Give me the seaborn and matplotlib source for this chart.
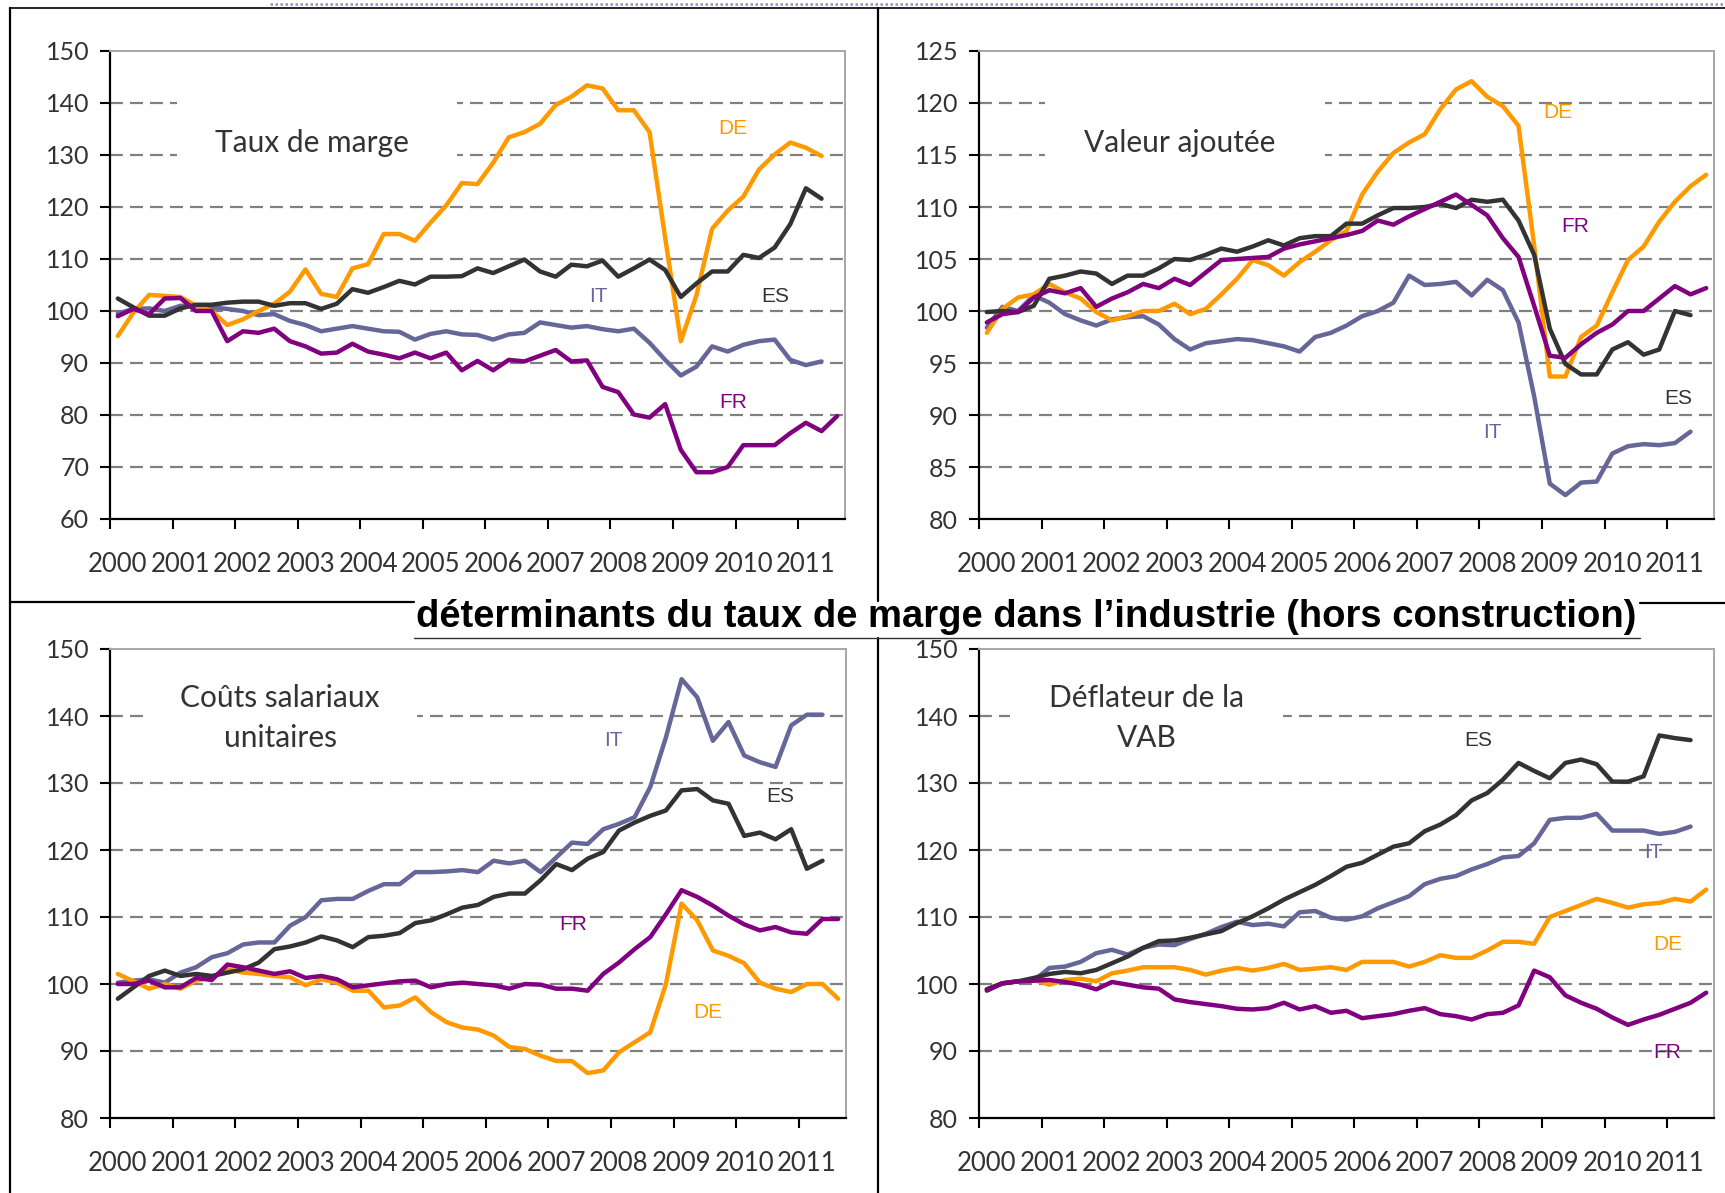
import numpy as np
import pandas as pd
import matplotlib
matplotlib.use("Agg")
import matplotlib.pyplot as plt
import seaborn as sns
from matplotlib.lines import Line2D
from matplotlib.patches import Rectangle

# ---------------- data (quarterly, 2000Q1 onwards) ----------------
years = [str(y) for y in range(2000, 2012)]
countries = ["IT", "DE", "ES", "FR"]
colors = {"DE": "#FF9900", "ES": "#333333", "IT": "#666699", "FR": "#800080"}

taux_DE = [95.2, 99.7, 103.1, 102.9, 102.7, 101.0, 100.0, 97.3, 98.4, 100.0, 101.4, 103.7, 108.0, 103.3, 102.7, 108.2,
           109.0, 114.8, 114.8, 113.5, 117.0, 120.3, 124.6, 124.4, 128.5, 133.4, 134.4, 136.0, 139.6, 141.2, 143.4, 142.8,
           138.6, 138.6, 134.4, 114.1, 94.2, 103.0, 115.8, 119.3, 122.0, 127.2, 130.1, 132.4, 131.4, 129.8]
taux_ES = [102.4, 100.7, 99.1, 99.1, 100.5, 101.2, 101.2, 101.6, 101.8, 101.8, 101.0, 101.5, 101.5, 100.4, 101.4, 104.2,
           103.5, 104.6, 105.8, 105.1, 106.6, 106.6, 106.7, 108.2, 107.3, 108.6, 109.9, 107.6, 106.6, 108.9, 108.6, 109.7,
           106.6, 108.2, 109.9, 107.9, 102.7, 105.3, 107.6, 107.6, 110.8, 110.2, 112.2, 116.7, 123.6, 121.6]
taux_IT = [99.5, 100.4, 100.5, 100.0, 101.0, 101.0, 100.7, 100.4, 100.0, 99.2, 99.4, 98.1, 97.3, 96.1, 96.6, 97.1,
           96.6, 96.1, 96.0, 94.5, 95.6, 96.1, 95.5, 95.4, 94.5, 95.5, 95.8, 97.8, 97.3, 96.8, 97.1, 96.5,
           96.1, 96.6, 93.9, 90.6, 87.6, 89.3, 93.2, 92.2, 93.5, 94.2, 94.5, 90.6, 89.6, 90.3]
taux_FR = [99.0, 100.4, 99.4, 102.4, 102.5, 100.0, 100.0, 94.2, 96.1, 95.8, 96.6, 94.2, 93.2, 91.8, 92.0, 93.7,
           92.2, 91.6, 90.9, 92.0, 90.9, 92.0, 88.6, 90.4, 88.6, 90.6, 90.3, 91.4, 92.5, 90.3, 90.5, 85.4,
           84.4, 80.1, 79.5, 82.1, 73.3, 69.0, 69.0, 70.0, 74.2, 74.2, 74.2, 76.5, 78.5, 76.9, 79.8]

va_DE = [97.9, 100.2, 101.3, 101.6, 102.6, 101.8, 101.2, 99.9, 99.1, 99.5, 100.0, 100.0, 100.7, 99.7, 100.2, 101.6,
         103.1, 104.9, 104.4, 103.4, 104.7, 105.7, 106.8, 107.7, 111.2, 113.4, 115.2, 116.2, 117.0, 119.4, 121.3, 122.1,
         120.6, 119.7, 117.8, 106.3, 93.7, 93.7, 97.5, 98.6, 101.8, 104.9, 106.2, 108.6, 110.5, 112.0, 113.1]
va_ES = [99.9, 100.0, 99.9, 100.5, 103.1, 103.4, 103.8, 103.6, 102.6, 103.4, 103.4, 104.1, 105.0, 104.9, 105.4, 106.0,
         105.7, 106.2, 106.8, 106.3, 107.0, 107.2, 107.2, 108.4, 108.4, 109.2, 109.9, 109.9, 110.0, 110.3, 109.9, 110.7,
         110.5, 110.7, 108.7, 105.4, 98.3, 94.9, 93.9, 93.9, 96.3, 97.0, 95.8, 96.3, 100.0, 99.6]
va_IT = [98.4, 100.4, 100.0, 101.5, 100.8, 99.7, 99.1, 98.6, 99.2, 99.4, 99.5, 98.7, 97.3, 96.3, 96.9, 97.1,
         97.3, 97.2, 96.9, 96.6, 96.1, 97.5, 97.9, 98.6, 99.5, 100.0, 100.8, 103.4, 102.5, 102.6, 102.8, 101.5,
         103.0, 102.0, 98.9, 91.8, 83.4, 82.3, 83.5, 83.6, 86.3, 87.0, 87.2, 87.1, 87.3, 88.4]
va_FR = [98.9, 99.7, 99.9, 101.3, 102.0, 101.7, 102.2, 100.4, 101.2, 101.8, 102.6, 102.2, 103.1, 102.5, 103.7, 104.9,
         105.0, 105.1, 105.2, 106.0, 106.4, 106.7, 107.0, 107.3, 107.7, 108.7, 108.3, 109.1, 109.8, 110.5, 111.2, 110.2,
         109.2, 107.0, 105.2, 100.5, 95.7, 95.5, 96.8, 97.9, 98.7, 100.0, 100.0, 101.2, 102.4, 101.6, 102.2]

csu_DE = [101.5, 100.4, 99.3, 100.0, 99.3, 100.5, 101.0, 102.2, 101.7, 101.5, 101.2, 101.0, 99.8, 100.7, 100.2, 99.0,
          99.0, 96.5, 96.8, 98.0, 95.8, 94.3, 93.5, 93.2, 92.3, 90.6, 90.3, 89.3, 88.5, 88.5, 86.7, 87.1,
          89.8, 91.3, 92.8, 100.0, 112.0, 109.5, 105.0, 104.2, 103.1, 100.2, 99.3, 98.8, 100.0, 100.0, 97.8]
csu_ES = [97.8, 99.5, 101.2, 102.0, 101.2, 101.5, 101.2, 101.7, 102.2, 103.2, 105.2, 105.6, 106.2, 107.1, 106.5, 105.5,
          107.0, 107.2, 107.6, 109.1, 109.5, 110.4, 111.4, 111.8, 113.0, 113.5, 113.5, 115.5, 117.9, 117.0, 118.7, 119.7,
          122.9, 124.1, 125.1, 125.9, 128.9, 129.1, 127.4, 126.9, 122.1, 122.6, 121.6, 123.1, 117.2, 118.4]
csu_IT = [100.2, 100.5, 100.7, 100.2, 101.7, 102.5, 104.0, 104.6, 105.9, 106.2, 106.2, 108.7, 110.0, 112.5, 112.7, 112.7,
          113.9, 114.9, 114.9, 116.7, 116.7, 116.8, 117.0, 116.7, 118.4, 118.0, 118.4, 116.7, 118.9, 121.1, 120.9, 123.1,
          123.9, 124.9, 129.4, 136.8, 145.5, 142.8, 136.3, 139.1, 134.1, 133.1, 132.4, 138.6, 140.2, 140.2]
csu_FR = [100.0, 100.0, 100.5, 99.5, 99.5, 100.9, 100.6, 102.9, 102.5, 102.0, 101.5, 101.9, 100.9, 101.2, 100.7, 99.5,
          99.8, 100.1, 100.4, 100.5, 99.5, 100.0, 100.2, 100.0, 99.8, 99.3, 100.0, 99.9, 99.3, 99.3, 99.0, 101.5,
          103.2, 105.2, 107.0, 110.4, 114.0, 113.0, 111.7, 110.2, 108.9, 108.0, 108.5, 107.7, 107.5, 109.7, 109.7]

defl_DE = [99.2, 100.1, 100.4, 100.6, 99.9, 100.6, 100.8, 100.4, 101.6, 102.0, 102.5, 102.5, 102.5, 102.1, 101.4, 102.0,
           102.4, 102.0, 102.4, 103.0, 102.1, 102.3, 102.5, 102.1, 103.3, 103.3, 103.3, 102.6, 103.3, 104.3, 103.9, 103.9,
           105.0, 106.3, 106.3, 106.0, 110.0, 110.9, 111.8, 112.7, 112.1, 111.4, 111.9, 112.1, 112.7, 112.3, 114.1]
defl_ES = [99.2, 100.1, 100.4, 100.9, 101.5, 101.8, 101.6, 102.1, 103.1, 104.1, 105.4, 106.4, 106.5, 106.9, 107.4, 107.9,
           109.1, 110.1, 111.3, 112.6, 113.7, 114.8, 116.1, 117.5, 118.1, 119.3, 120.5, 121.0, 122.8, 123.8, 125.2, 127.4,
           128.5, 130.5, 133.0, 131.8, 130.7, 133.0, 133.5, 132.8, 130.2, 130.2, 131.0, 137.1, 136.7, 136.4]
defl_IT = [99.2, 100.1, 100.4, 100.5, 102.4, 102.6, 103.3, 104.6, 105.1, 104.4, 105.4, 105.9, 105.8, 106.7, 107.5, 108.5,
           109.3, 108.8, 109.0, 108.6, 110.7, 110.9, 109.9, 109.6, 110.1, 111.3, 112.2, 113.1, 114.9, 115.7, 116.1, 117.1,
           117.9, 118.9, 119.1, 121.0, 124.5, 124.8, 124.8, 125.4, 122.9, 122.9, 122.9, 122.4, 122.7, 123.5]
defl_FR = [99.0, 100.1, 100.4, 100.5, 100.6, 100.3, 99.9, 99.2, 100.3, 99.9, 99.5, 99.3, 97.7, 97.3, 97.0, 96.7,
           96.3, 96.2, 96.4, 97.2, 96.2, 96.7, 95.7, 96.0, 94.9, 95.2, 95.5, 96.0, 96.4, 95.5, 95.2, 94.7,
           95.5, 95.7, 96.8, 102.0, 101.0, 98.3, 97.2, 96.3, 95.0, 93.9, 94.7, 95.4, 96.3, 97.2, 98.7]

panel_titles = ["Taux de marge", "Valeur ajoutée", "Coûts salariaux\nunitaires", "Déflateur de la\nVAB"]
main_title = "déterminants du taux de marge dans l’industrie (hors construction)"

# ---------------- style ----------------
sns.set_theme(style="white")
plt.rcParams["font.family"] = ["Lato", "DejaVu Sans"]

W, H = 1725, 1193
fig = plt.figure(figsize=(W / 100, H / 100), dpi=100)
fig.patch.set_facecolor("white")


def fx(x):
    return x / W


def fy(y):
    return 1 - y / H


def fline(x0, y0, x1, y1, **kw):
    fig.add_artist(Line2D([fx(x0), fx(x1)], [fy(y0), fy(y1)], transform=fig.transFigure, **kw))


def long_df(series):
    rows = []
    for c, vals in series.items():
        for i, v in enumerate(vals):
            rows.append((i, v, c))
    return pd.DataFrame(rows, columns=["q", "val", "pays"])


panels = [
    dict(series={"DE": taux_DE, "ES": taux_ES, "IT": taux_IT, "FR": taux_FR},
         ylim=(60, 150), step=10, box=(110, 51, 845, 519),
         gap=(177, 457, 88, 170), title=panel_titles[0], tpos=(312, 143),
         labels={"DE": (733, 128), "IT": (598, 297), "ES": (775, 297), "FR": (733, 403)}),
    dict(series={"DE": va_DE, "ES": va_ES, "IT": va_IT, "FR": va_FR},
         ylim=(80, 125), step=5, box=(979, 51, 1714, 519),
         gap=(1045, 1325, 88, 170), title=panel_titles[1], tpos=(1180, 143),
         labels={"DE": (1558, 112), "FR": (1575, 227), "ES": (1678, 398), "IT": (1492, 433)}),
    dict(series={"DE": csu_DE, "ES": csu_ES, "IT": csu_IT, "FR": csu_FR},
         ylim=(80, 150), step=10, box=(110, 649, 846, 1118),
         gap=(143, 417, 680, 765), title=panel_titles[2], tpos=(280, 718),
         labels={"IT": (613, 740), "ES": (780, 797), "FR": (573, 925), "DE": (708, 1012)}),
    dict(series={"DE": defl_DE, "ES": defl_ES, "IT": defl_IT, "FR": defl_FR},
         ylim=(80, 150), step=10, box=(979, 649, 1714, 1118),
         gap=(1010, 1283, 680, 765), title=panel_titles[3], tpos=(1147, 718),
         labels={"ES": (1478, 740), "IT": (1653, 853), "DE": (1668, 945), "FR": (1667, 1052)}),
]

for p in panels:
    x0, y0, x1, y1 = p["box"]
    ax = fig.add_axes([fx(x0), fy(y1), (x1 - x0) / W, (y1 - y0) / H])
    df = long_df(p["series"])
    sns.lineplot(data=df, x="q", y="val", hue="pays", hue_order=countries, palette=colors,
                 linewidth=3.2, legend=False, ax=ax, estimator=None, sort=False)
    for ln in ax.lines:
        ln.set_zorder(3)
        ln.set_solid_joinstyle("round")

    lo, hi = p["ylim"]
    yt = np.arange(lo, hi + 0.1, p["step"])
    ax.set_ylim(lo, hi)
    ax.set_xlim(-0.5, 46.5)
    ax.set_yticks(yt)
    ax.set_yticklabels([f"{int(v)}" for v in yt])
    for v in yt[1:-1]:
        ax.axhline(v, color="#808080", lw=1.6, ls=(0, (5.8, 3.2)), zorder=1)

    # white box behind panel title (interrupts the grid)
    gx0, gx1, gy0, gy1 = p["gap"]
    fig.add_artist(Rectangle((fx(gx0), fy(gy1)), (gx1 - gx0) / W, (gy1 - gy0) / H,
                             transform=fig.transFigure, facecolor="white", edgecolor="none", zorder=1.5))

    ax.set_xticks(np.arange(-0.5, 44, 4))
    ax.set_xticklabels([])
    ax.set_xticks(np.arange(0, 45, 4), minor=True)
    ax.set_xticklabels(years, minor=True)
    ax.tick_params(axis="x", which="major", direction="out", length=7, width=1.5, color="black", bottom=True)
    ax.tick_params(axis="x", which="minor", length=0, pad=24, labelsize=18.5, labelcolor="#333333", bottom=True)
    ax.tick_params(axis="y", which="major", direction="out", length=7, width=1.5, color="black", left=True,
                   pad=8, labelsize=18, labelcolor="#333333")
    ax.set_xlabel("")
    ax.set_ylabel("")

    for side in ["left", "bottom"]:
        ax.spines[side].set_color("black")
        ax.spines[side].set_linewidth(1.6)
    for side in ["top", "right"]:
        ax.spines[side].set_color("#a6a6a6")
        ax.spines[side].set_linewidth(1.4)
    ax.set_facecolor("white")

    tx, ty = p["tpos"]
    fig.text(fx(tx), fy(ty), p["title"], ha="center", va="center", fontsize=21.5, color="#333333",
             linespacing=1.55, zorder=5)

    for c, (lx, ly) in p["labels"].items():
        fig.text(fx(lx), fy(ly), c, ha="center", va="center", fontsize=15, color=colors[c],
                 family=["Liberation Sans", "DejaVu Sans"], zorder=5)

# ---------------- frame and main title ----------------
fline(10, 8, 10, H, color="black", lw=1.6)
fline(10, 8, W, 8, color="black", lw=1.2)
fline(270, 4, W, 4, color="#8e8ec8", lw=1.8, ls=(0, (1, 1)))
fline(878, 8, 878, 601, color="black", lw=1.6)
fline(878, 638, 878, H, color="black", lw=1.6)
fline(10, 602, 414, 602, color="black", lw=1.6)
fline(1640, 603, W, 603, color="black", lw=1.6)
fline(414, 638, 1640, 638, color="#333333", lw=1.0)

t = fig.text(fx(416), fy(617), main_title, ha="left", va="center", fontsize=24, fontweight="bold",
             color="black", family=["Liberation Sans", "DejaVu Sans"], zorder=6)
renderer = fig.canvas.get_renderer()
wpx = t.get_window_extent(renderer).width
t.set_fontsize(24 * 1222 / wpx)

fig.savefig("out.png", dpi=100, facecolor="white")
